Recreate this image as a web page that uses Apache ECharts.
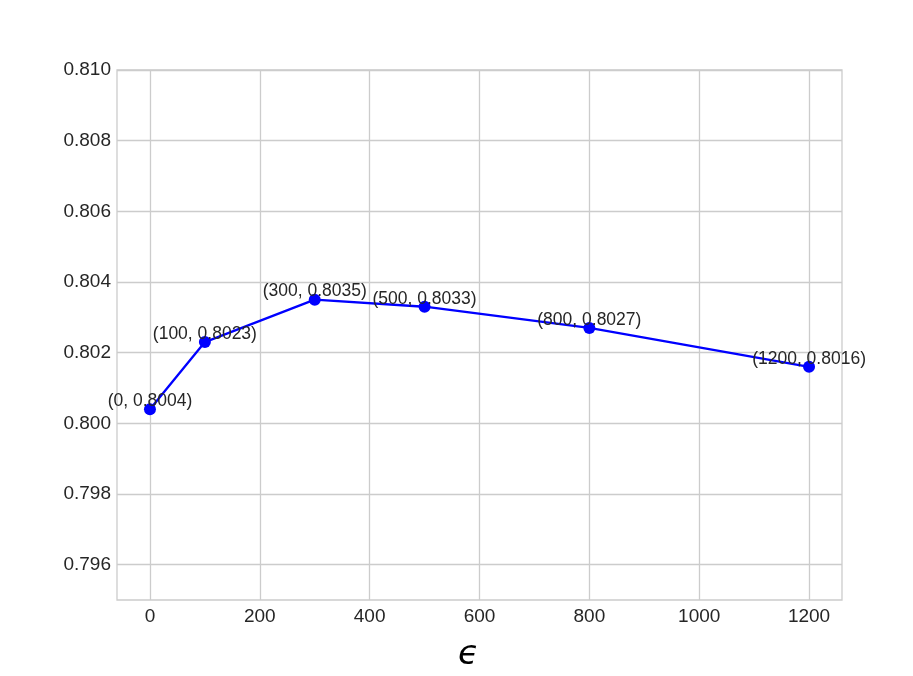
<!DOCTYPE html>
<html>
<head>
<meta charset="utf-8">
<script src="https://cdn.jsdelivr.net/npm/echarts@6/dist/echarts.min.js"></script>
<style>
  html, body { margin: 0; padding: 0; background: #fff; }
  #chart { width: 913px; height: 676px; }
</style>
</head>
<body>
<div id="chart"></div>
<script>
  // epsilon values and accuracy
  var epsValues = [0, 100, 300, 500, 800, 1200]
  var accValues = [0.8004, 0.8023, 0.8035, 0.8033, 0.8027, 0.8016]
  var xTicks = [0, 200, 400, 600, 800, 1000, 1200]
  var yTicks = [0.796, 0.798, 0.800, 0.802, 0.804, 0.806, 0.808, 0.810]

  var points = []
  for (var i = 0; i < epsValues.length; i++) {
    points.push([epsValues[i], accValues[i]])
  }

  var textColor = '#262626'
  var gridColor = '#cccccc'
  var chart = echarts.init(document.getElementById('chart'))

  chart.setOption({
    animation: false,
    textStyle: { fontFamily: 'Liberation Sans, Arial, sans-serif' },
    grid: {
      left: 117,
      right: 71,
      top: 70,
      bottom: 76,
      outerBoundsMode: 'none',
      show: true,
      borderColor: gridColor,
      borderWidth: 1.3,
      backgroundColor: '#fff',
    },
    xAxis: {
      type: 'value',
      min: -60,
      max: 1260,
      name: 'ϵ',
      nameLocation: 'middle',
      nameGap: 38,
      nameTextStyle: {
        fontSize: 34,
        fontStyle: 'italic',
        fontFamily: 'DejaVu Sans',
        color: '#000',
        padding: [0, 22, 0, 0],
      },
      axisLine: { show: false },
      axisTick: { show: false, customValues: xTicks },
      axisLabel: {
        customValues: xTicks,
        fontSize: 19,
        color: textColor,
        margin: 7,
        formatter: function (v) { return String(v) },
      },
      splitLine: { show: true, lineStyle: { color: gridColor, width: 1.3 } },
    },
    yAxis: {
      type: 'value',
      min: 0.795,
      max: 0.810,
      axisLine: { show: false },
      axisTick: { show: false, customValues: yTicks },
      axisLabel: {
        customValues: yTicks,
        fontSize: 19,
        color: textColor,
        margin: 6,
        padding: [3, 0, 0, 0],
        formatter: function (v) { return v.toFixed(3) },
      },
      splitLine: { show: true, lineStyle: { color: gridColor, width: 1.3 } },
    },
    series: [
      {
        type: 'line',
        data: points,
        symbol: 'circle',
        symbolSize: 12,
        itemStyle: { color: '#0000ff' },
        lineStyle: { color: '#0000ff', width: 2.3 },
        label: {
          show: true,
          position: 'top',
          distance: -7,
          fontSize: 17.5,
          color: textColor,
          formatter: function (p) {
            return '(' + p.value[0] + ', ' + p.value[1].toFixed(4) + ')'
          },
        },
        z: 3,
      },
    ],
  })
</script>
</body>
</html>
